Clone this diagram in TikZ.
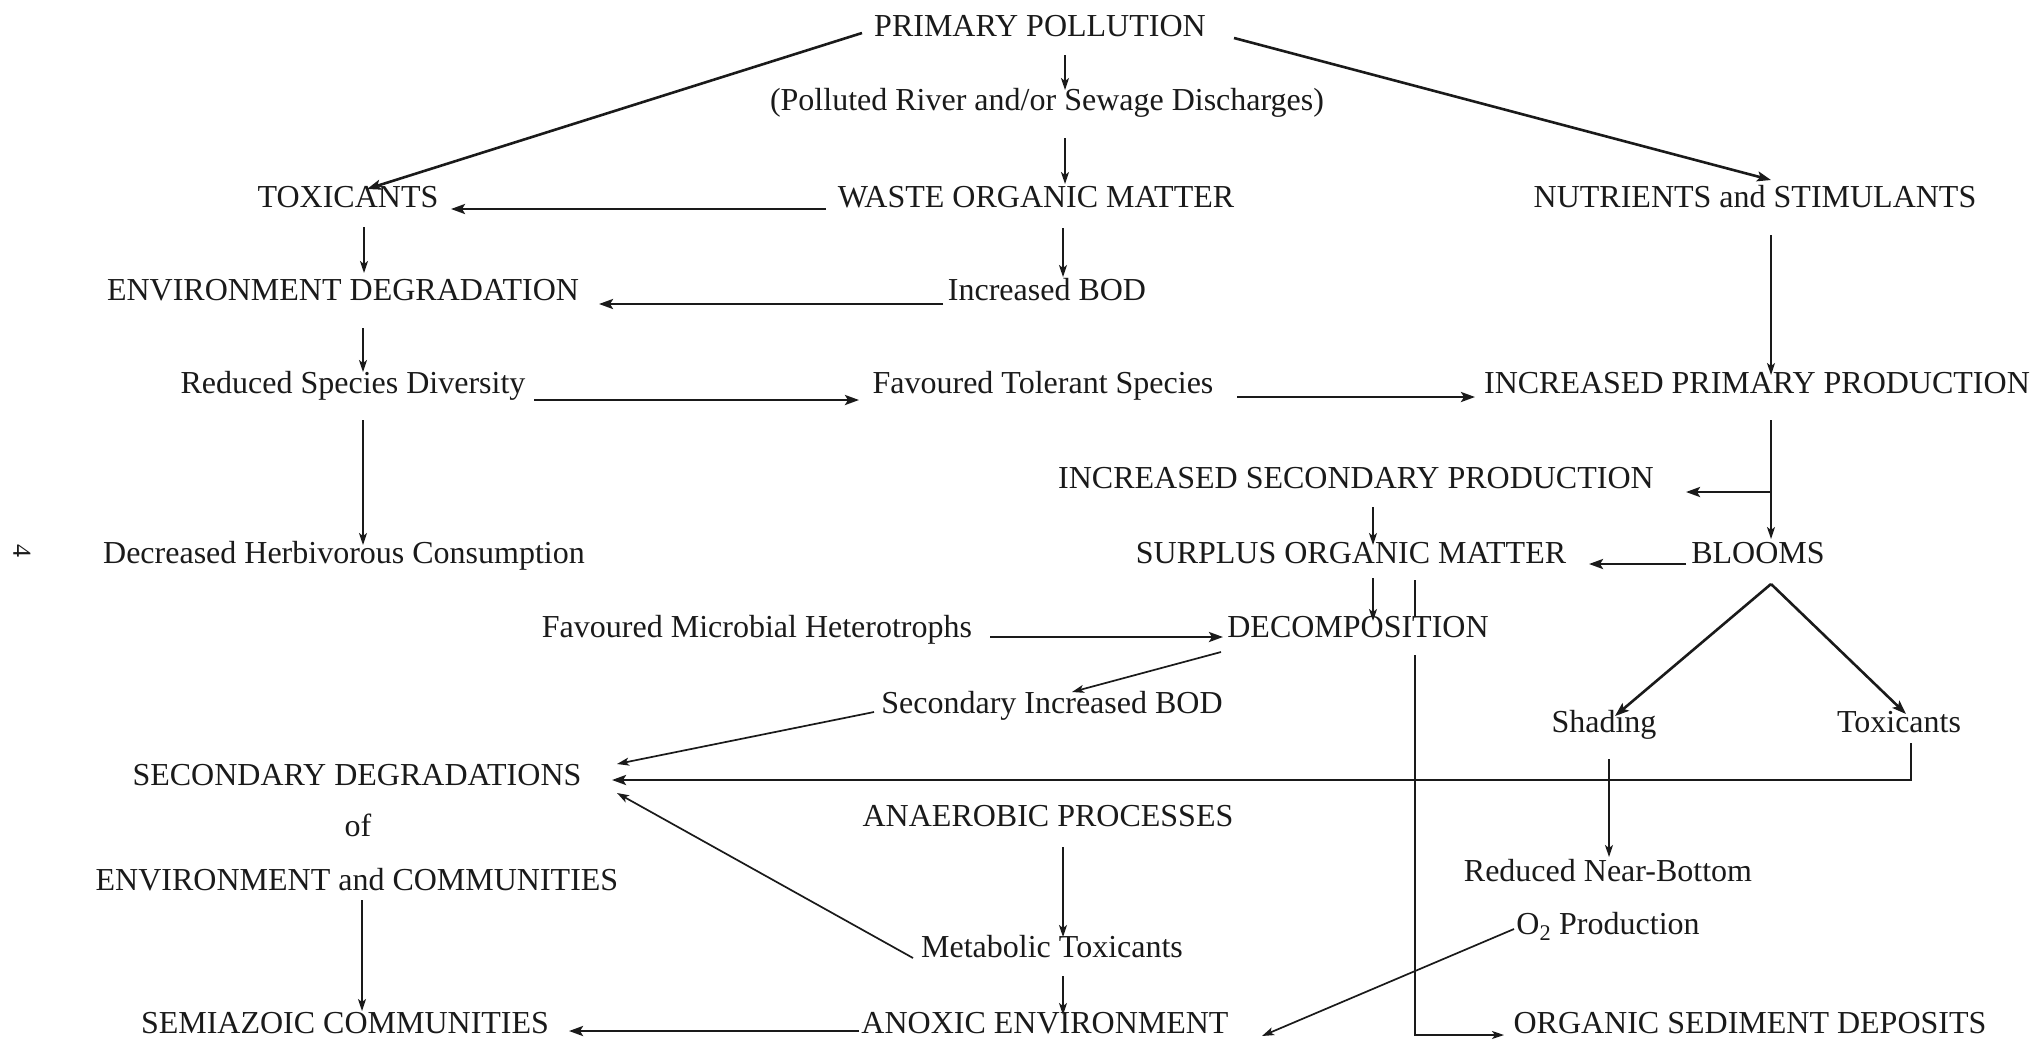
\documentclass[tikz,border=0pt]{standalone}
\usepackage{fontspec}
\setmainfont{Liberation Serif}
\usetikzlibrary{calc,arrows.meta}
\definecolor{ink}{HTML}{1A1A1A}
\begin{document}
\begin{tikzpicture}[x=1pt,y=-1pt,
  lbl/.style={inner sep=0pt,anchor=base,font=\fontsize{32}{38}\selectfont,text=ink},
  thk/.style={line width=2.6pt,draw=ink,-{Stealth[length=14pt,width=10pt,inset=3pt]}},
  thn/.style={line width=1.7pt,draw=ink,-{Stealth[length=12pt,width=8pt,inset=3pt]}},
  plain/.style={line width=1.7pt,draw=ink}]
\path[use as bounding box,fill=white] (0,0) rectangle (2036,1042);

% labels
\node[lbl] (prim) at (1040,36) {PRIMARY POLLUTION};
\node[lbl] (poll) at (1047,110) {(Polluted River and/or Sewage Discharges)};
\node[lbl] (toxa) at (348,207) {TOXICANTS};
\node[lbl] (waste) at (1036,207) {WASTE ORGANIC MATTER};
\node[lbl] (nutr) at (1755,207) {NUTRIENTS and STIMULANTS};
\node[lbl] (envdeg) at (343,300) {ENVIRONMENT DEGRADATION};
\node[lbl] (incbod) at (1047,300) {Increased BOD};
\node[lbl] (redsp) at (353,393) {Reduced Species Diversity};
\node[lbl] (favtol) at (1043,393) {Favoured Tolerant Species};
\node[lbl] (incprim) at (1757,393) {INCREASED PRIMARY PRODUCTION};
\node[lbl] (incsec) at (1356,488) {INCREASED SECONDARY PRODUCTION};
\node[lbl] (decr) at (344,563) {Decreased Herbivorous Consumption};
\node[lbl] (surplus) at (1351,563) {SURPLUS ORGANIC MATTER};
\node[lbl] (blooms) at (1758,563) {BLOOMS};
\node[lbl] (favmic) at (757,637) {Favoured Microbial Heterotrophs};
\node[lbl] (decomp) at (1358,637) {DECOMPOSITION};
\node[lbl] (secbod) at (1052,713) {Secondary Increased BOD};
\node[lbl] (shading) at (1604,732) {Shading};
\node[lbl] (toxb) at (1899,732) {Toxicants};
\node[lbl] (secdeg) at (357,785) {SECONDARY DEGRADATIONS};
\node[lbl] (of) at (358,836) {of};
\node[lbl] (envcom) at (357,890) {ENVIRONMENT and COMMUNITIES};
\node[lbl] (anaer) at (1048,826) {ANAEROBIC PROCESSES};
\node[lbl] (rnb) at (1608,881) {Reduced Near-Bottom};
\node[lbl] (otwo) at (1608,934) {O\textsubscript{2} Production};
\node[lbl] (metab) at (1052,957) {Metabolic Toxicants};
\node[lbl] (semi) at (345,1033) {SEMIAZOIC COMMUNITIES};
\node[lbl] (anoxic) at (1045,1033) {ANOXIC ENVIRONMENT};
\node[lbl] (orgsed) at (1750,1033) {ORGANIC SEDIMENT DEPOSITS};
\node[lbl,anchor=center,rotate=-90,font=\fontsize{26}{30}\selectfont] (pgnum) at (22,551) {4};

% connectors
\draw[thk] ($(prim.base)+(-178,-3)$) -- ($(toxa.base)+(19,-18)$);
\draw[thk] ($(prim.base)+(194,2)$) -- ($(nutr.base)+(16,-27)$);
\draw[thn] ($(prim.base)+(25,19)$) -- ($(poll.base)+(18,-20)$);
\draw[thn] ($(poll.base)+(18,28)$) -- ($(waste.base)+(29,-23)$);
\draw[thk] ($(waste.base)+(-210,2)$) -- ($(toxa.base)+(103,2)$);
\draw[thn] ($(toxa.base)+(16,20)$) -- ($(envdeg.base)+(21,-27)$);
\draw[thn] ($(waste.base)+(27,21)$) -- ($(incbod.base)+(16,-23)$);
\draw[thk] ($(incbod.base)+(-104,4)$) -- ($(envdeg.base)+(256,4)$);
\draw[thn] ($(envdeg.base)+(20,28)$) -- ($(redsp.base)+(10,-21)$);
\draw[thk] ($(redsp.base)+(181,7)$) -- ($(favtol.base)+(-184,7)$);
\draw[thk] ($(favtol.base)+(194,4)$) -- ($(incprim.base)+(-282,4)$);
\draw[thn] ($(nutr.base)+(16,28)$) -- ($(incprim.base)+(14,-18)$);
\draw[thn] ($(redsp.base)+(10,27)$) -- ($(decr.base)+(19,-18)$);
\draw[thn] ($(incprim.base)+(14,27)$) -- ($(blooms.base)+(13,-24)$);
\draw[thk] ($(incprim.base)+(14,99)$) -- ($(incsec.base)+(330,4)$);
\draw[thn] ($(incsec.base)+(17,19)$) -- ($(surplus.base)+(22,-18)$);
\draw[thk] ($(blooms.base)+(-72,1)$) -- ($(surplus.base)+(238,1)$);
\draw[thn] ($(surplus.base)+(22,15)$) -- ($(decomp.base)+(15,-16)$);
\draw[plain] ($(surplus.base)+(64,17)$) -- ($(decomp.base)+(57,-20)$);
\draw[thn] ($(decomp.base)+(57,18)$) |- ($(orgsed.base)+(-246,2)$);
\draw[thk] ($(favmic.base)+(233,0)$) -- ($(decomp.base)+(-135,0)$);
\draw[thn] ($(decomp.base)+(-137,15)$) -- ($(secbod.base)+(20,-21)$);
\draw[thn] ($(secbod.base)+(-178,-1)$) -- ($(secdeg.base)+(260,-21)$);
\draw[thk] ($(toxb.base)+(12,11)$) |- ($(secdeg.base)+(255,-5)$);
\draw[thn] ($(metab.base)+(-139,1)$) -- ($(secdeg.base)+(260,8)$);
\draw[thn] ($(envcom.base)+(5,10)$) -- ($(semi.base)+(17,-22)$);
\draw[thk] ($(anoxic.base)+(-186,-2)$) -- ($(semi.base)+(224,-2)$);
\draw[thn] ($(anaer.base)+(15,21)$) -- ($(metab.base)+(11,-20)$);
\draw[thn] ($(metab.base)+(11,19)$) -- ($(anoxic.base)+(18,-18)$);
\draw[thn] ($(shading.base)+(5,27)$) -- ($(rnb.base)+(1,-24)$);
\draw[thk] ($(blooms.base)+(13,21)$) -- ($(shading.base)+(11,-16)$);
\draw[thk] ($(blooms.base)+(13,21)$) -- ($(toxb.base)+(7,-18)$);
\draw[thn] ($(otwo.base)+(-94,-5)$) -- ($(anoxic.base)+(217,3)$);
\end{tikzpicture}
\end{document}
